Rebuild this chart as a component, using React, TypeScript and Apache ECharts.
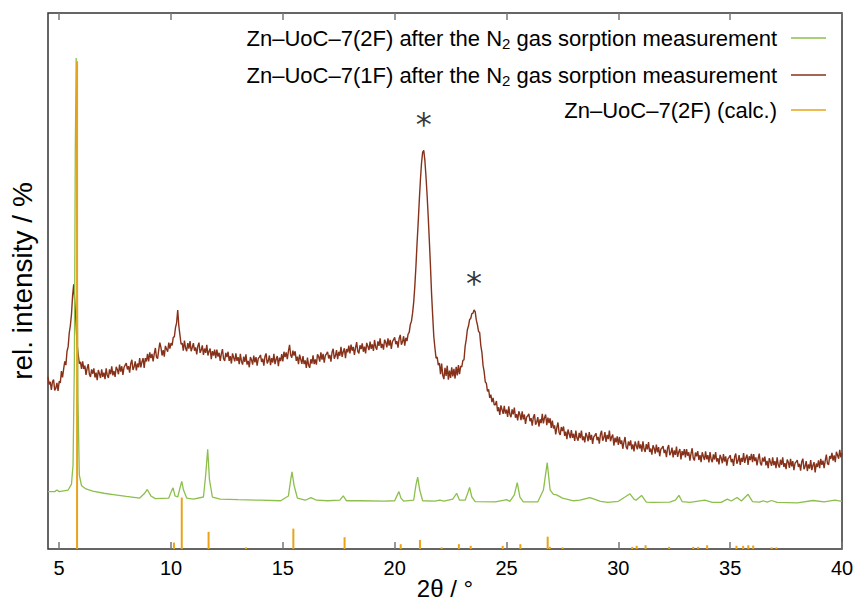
import React, { useEffect, useRef } from 'react';
import * as echarts from 'echarts';

const FONT = '"Liberation Sans", Arial, Helvetica, sans-serif';
const GREEN = '#8cbf4c';
const BROWN = '#86321a';
const ORANGE = '#e8a31a';

const NAME_2F = 'Zn–UoC–7(2F) after the N2 gas sorption measurement';
const NAME_1F = 'Zn–UoC–7(1F) after the N2 gas sorption measurement';
const NAME_CALC = 'Zn–UoC–7(2F) (calc.)';

const xTickValues = [5, 10, 15, 20, 25, 30, 35, 40];

// Zn-UoC-7(2F) after N2 sorption: [2θ, intensity]
const green2F = [
  [4.5, 10.7], [4.8, 10.7], [4.9, 11.0], [5.0, 10.7], [5.4, 11.0], [5.55, 12.1], [5.62, 15.7], [5.68, 35], [5.72, 74], [5.76, 91.6],
  [5.8, 60], [5.84, 27.8], [5.9, 13.8], [6.0, 11.8], [6.2, 11.2], [6.5, 10.8], [7.0, 10.4], [7.5, 10.1], [8.0, 9.8], [8.6, 9.5],
  [8.8, 10.3], [8.94, 11.1], [9.1, 9.9], [9.3, 9.4], [9.9, 9.5], [10.02, 10.8], [10.09, 11.4], [10.18, 9.9], [10.3, 9.7], [10.42, 11.7],
  [10.48, 12.6], [10.56, 11.0], [10.7, 9.5], [11.0, 9.3], [11.45, 9.7], [11.55, 13.8], [11.64, 18.6], [11.72, 12.9], [11.85, 9.7], [12.2, 9.3],
  [13.0, 9.2], [14.0, 9.1], [14.9, 9.0], [15.25, 9.9], [15.35, 12.9], [15.41, 14.4], [15.5, 11.9], [15.65, 9.5], [16.0, 9.1], [16.26, 9.6],
  [16.5, 9.1], [17.0, 9.0], [17.55, 9.1], [17.7, 9.9], [17.85, 9.0], [18.5, 9.0], [19.5, 8.95], [20.0, 9.0], [20.12, 10.1], [20.19, 10.7],
  [20.28, 9.5], [20.4, 8.95], [20.85, 9.1], [20.95, 11.9], [21.03, 13.4], [21.12, 11.0], [21.25, 9.0], [21.8, 8.95], [22.02, 9.1], [22.2, 8.95],
  [22.6, 9.3], [22.77, 10.4], [22.9, 9.1], [23.15, 9.1], [23.28, 10.6], [23.35, 11.5], [23.45, 9.7], [23.6, 8.85], [24.5, 8.8], [24.9, 9.1],
  [25.0, 9.2], [25.15, 8.9], [25.35, 10.1], [25.48, 12.4], [25.6, 9.7], [25.75, 8.8], [26.4, 8.8], [26.65, 11.0], [26.82, 16.1], [26.95, 11.0],
  [27.1, 10.2], [27.24, 10.1], [27.5, 9.5], [28.0, 9.0], [28.28, 9.1], [28.73, 9.6], [29.2, 8.9], [29.53, 8.7], [30.0, 8.9], [30.3, 9.7],
  [30.52, 10.3], [30.7, 9.3], [30.79, 9.1], [31.04, 10.0], [31.25, 8.75], [31.5, 8.7], [32.3, 8.75], [32.55, 9.1], [32.71, 10.0], [32.85, 8.85],
  [33.2, 8.7], [33.87, 9.1], [34.2, 8.7], [34.6, 8.7], [34.87, 9.3], [35.05, 8.95], [35.31, 9.6], [35.5, 8.95], [35.8, 10.2], [36.0, 8.85],
  [36.3, 8.75], [36.48, 9.0], [36.65, 8.75], [36.85, 9.05], [37.1, 8.7], [38.0, 8.6], [38.71, 9.05], [39.2, 8.8], [39.68, 9.1], [40.0, 8.9],
];

// Zn-UoC-7(1F) after N2 sorption, measured on a 0.05° grid starting at 4.5°
const BROWN_START = 4.5;
const BROWN_STEP = 0.05;
const brown1F = [
  32.1, 30.7, 31.2, 29.7, 31.2, 31.6, 29.6, 30.0, 31.0, 29.5, 31.3, 31.0, 33.2, 32.0, 33.6, 35.0, 34.3, 36.9, 37.7, 40.3,
  41.7, 43.8, 47.3, 49.4, 45.8, 42.4, 38.2, 36.3, 34.6, 34.9,
  33.6, 35.0, 33.6, 34.2, 32.5, 33.7, 34.5, 32.6, 32.1, 33.5,
  32.7, 33.7, 32.0, 32.9, 31.5, 33.4, 32.7, 31.9, 33.5, 32.1,
  32.9, 31.7, 33.7, 32.4, 31.9, 33.5, 32.6, 34.1, 32.4, 33.2, 32.1, 34.0, 33.5, 32.6, 34.4, 33.1, 34.1, 32.5, 33.9, 34.3,
  34.7, 33.5, 34.1, 32.9, 34.6, 35.3, 33.4, 34.0, 35.0, 33.3, 34.6, 33.9, 35.6, 33.9, 34.9, 35.6, 33.8, 35.6, 35.0, 36.4,
  35.0, 36.7, 35.6, 36.4, 35.0, 36.4, 37.5, 35.8, 35.5, 37.1, 38.5, 37.6, 36.1, 37.1, 35.9, 37.9, 37.3, 36.8, 38.5, 37.4,
  38.4, 38.0, 39.5, 39.6, 41.3, 42.2, 44.6, 41.6, 39.9, 38.2,
  38.4, 37.0, 38.9, 37.5, 36.9, 38.4, 37.4, 38.8, 36.9, 37.6,
  38.4, 37.0, 37.6, 36.3, 37.9, 38.5, 36.6, 37.1, 38.0, 36.2, 37.4, 36.6, 38.1, 36.1, 36.9, 37.4, 35.4, 36.9, 36.1, 37.2,
  35.6, 37.2, 35.9, 36.6, 35.1, 36.4, 37.3, 35.5, 35.1, 36.6, 35.8, 36.8, 35.1, 36.0, 34.6, 36.5, 35.7, 35.0, 36.5, 35.1,
  35.8, 34.5, 36.4, 35.0, 34.4, 35.9, 34.9, 36.3, 34.4, 35.1, 33.9, 35.8, 35.3, 34.4, 36.1, 34.8, 35.8, 34.2, 35.5, 35.8,
  36.2, 34.9, 35.5, 34.2, 35.9, 36.5, 34.6, 35.1, 36.1, 34.3, 35.6, 34.8, 36.4, 34.5, 35.4, 36.0, 34.1, 35.7, 35.05, 36.35,
  35.0, 36.8, 35.8, 36.7, 35.4, 36.9, 38.1, 36.2, 35.7, 37.0, 36.1, 36.9, 35.1, 35.9, 34.5, 36.25, 35.4, 34.55, 36.0, 34.5,
  35.2, 33.8, 35.7, 34.3, 33.8, 35.4, 34.6, 36.15, 34.5, 35.35, 34.4, 36.3, 35.9, 34.95, 36.7, 35.35, 36.4, 34.75, 36.1, 36.4,
  36.8, 35.55, 36.2, 34.95, 36.7, 37.35, 35.5, 36.05, 37.1, 35.4, 36.8, 36.05, 37.7, 35.85, 36.8, 37.45, 35.6, 37.3, 36.7, 37.95,
  36.5, 38.15, 37.0, 37.7, 36.2, 37.55, 38.6, 36.85, 36.5, 38.0, 37.3, 38.35, 36.8, 37.75, 36.5, 38.45, 37.8, 37.1, 38.7, 37.35,
  38.2, 36.95, 39.0, 37.65, 37.2, 38.75, 37.9, 39.3, 37.5, 38.25, 37.2, 39.05, 38.6, 37.6, 39.3, 37.95, 39.0, 37.35, 38.7, 39.05,
  39.5, 38.2, 38.8, 37.55, 39.3, 39.95, 38.1, 38.65, 39.7, 37.95,
  39.4, 38.8, 40.1, 40.4, 41.9, 42.5, 44.0, 46.0, 49.0, 52.7,
  57.0, 60.8, 65.0, 68.8, 72.0, 74.0, 74.4, 72.5, 69.5, 66.0,
  62.0, 57.5, 52.8, 47.6, 43.5, 39.6, 37.5, 35.6, 35.8, 34.3,
  34.7, 32.6, 34.6, 32.4, 31.7, 33.8, 32.3, 34.2, 31.6, 33.3,
  31.9, 33.9, 32.2, 33.6, 31.8, 34.0, 32.4, 34.3, 32.6, 34.1,
  34.0, 35.2, 35.3, 37.8, 39.1, 40.9, 41.6, 42.8, 43.0, 43.9,
  44.0, 44.6, 44.3, 42.7, 41.8, 40.6, 40.4, 38.0, 36.7, 34.3,
  33.1, 31.2, 30.9, 29.4, 29.8, 28.2, 28.8, 27.4, 28.2, 26.9,
  26.9, 27.6, 25.7, 26.45, 25.0, 26.8, 26.0, 25.2, 26.7, 25.25,
  26.0, 24.65, 26.6, 25.15, 24.6, 26.05, 25.1, 26.4, 24.5, 25.15, 24.0, 25.7, 25.1, 24.05, 25.7, 24.2, 25.1, 23.35, 24.6, 24.85,
  25.2, 23.85, 24.4, 23.0, 24.6, 25.15, 23.2, 23.65, 24.6, 22.85, 24.2, 23.5, 25.2, 23.45, 24.5, 25.1, 23.1, 24.5, 23.5, 24.4,
  22.6, 23.95, 22.5, 23.05, 21.4, 22.65, 23.6, 21.75, 21.3, 22.75, 22.0, 22.85, 21.1, 21.9, 20.5, 22.3, 21.5, 20.7, 22.2, 20.75,
  21.5, 20.15, 22.1, 20.7, 20.2, 21.65, 20.7, 22.1, 20.3, 21.0, 19.9, 21.65, 21.1, 20.1, 21.8, 20.35, 21.3, 19.6, 20.9, 21.2,
  21.6, 20.3, 20.9, 19.65, 21.4, 22.05, 20.2, 20.75, 21.8, 20.0, 21.3, 20.5, 22.1, 20.1, 20.9, 21.35, 19.3, 20.75, 19.9, 21.0,
  19.4, 20.9, 19.6, 20.25, 18.7, 19.95, 20.9, 19.05, 18.6, 20.05, 19.3, 20.25, 18.6, 19.5, 18.2, 20.05, 19.3, 18.6, 20.2, 18.75,
  19.5, 18.15, 20.1, 18.65, 18.1, 19.55, 18.6, 19.95, 18.1, 18.75, 17.6, 19.35, 18.8, 17.8, 19.5, 18.05, 19.0, 17.3, 18.6, 18.85,
  19.2, 17.9, 18.5, 17.15, 18.8, 19.4, 17.5, 17.95, 18.9, 17.1, 18.4, 17.55, 19.1, 17.2, 18.1, 18.65, 16.7, 18.25, 17.5, 18.65,
  17.1, 18.65, 17.4, 18.05, 16.5, 17.8, 18.8, 16.95, 16.5, 18.0, 17.3, 18.25, 16.6, 17.5, 16.2, 18.05, 17.3, 16.6, 18.2, 16.75,
  17.5, 16.15, 18.1, 16.7, 16.2, 17.65, 16.7, 18.1, 16.3, 16.95, 15.8, 17.55, 17.0, 16.0, 17.7, 16.3, 17.3, 15.55, 16.8, 17.1,
  17.5, 16.2, 16.8, 15.5, 17.2, 17.8, 15.9, 16.45, 17.5, 15.7, 17.0, 16.25, 17.9, 16.05, 17.0, 17.6, 15.7, 17.3, 16.6, 17.75,
  16.2, 17.7, 16.4, 17.1, 15.6, 16.85, 17.8, 16.0, 15.6, 17.05, 16.3, 17.25, 15.6, 16.45, 15.1, 16.95, 16.2, 15.5, 17.1, 15.65,
  16.4, 15.1, 17.1, 15.7, 15.2, 16.65, 15.7, 17.1, 15.3, 16.0, 14.9, 16.7, 16.2, 15.15, 16.8, 15.4, 16.4, 14.7, 16.0, 16.25,
  16.6, 15.3, 15.9, 14.6, 16.3, 16.85, 14.9, 15.4, 16.4, 14.55, 15.8, 15.0, 16.6, 14.7, 15.6, 16.2, 14.3, 15.95, 15.3, 16.55,
  15.1, 16.8, 15.7, 16.5, 15.1, 16.5, 17.6, 15.95, 15.7, 17.35, 16.8, 17.95, 16.5, 17.45, 16.2, 18.15, 17.5, 16.85, 18.5, 17.1,
  17.9,
];

// Calculated reflections: positions (2θ) and heights
const calcPos = [5.8, 10.13, 10.48, 11.68, 13.35, 15.47, 17.76, 20.27, 21.13, 22.1, 22.87, 23.4, 24.83, 25.62, 26.84, 26.94, 27.51,
  30.62, 30.82, 31.22, 32.27, 33.35, 33.57, 33.97, 35.28, 35.58, 35.81, 36.03, 36.85, 37.07];
const calcInt = [91, 1.2, 9.6, 3.2, 0.3, 3.8, 2.2, 0.9, 1.7, 0.3, 0.9, 0.6, 0.6, 0.9, 2.3, 0.4, 0.3,
  0.4, 0.6, 0.7, 0.4, 0.4, 0.4, 0.7, 0.6, 0.6, 0.7, 0.65, 0.3, 0.3];

// Peaks marked with an asterisk
const markedPeaks = [[21.3, 74.4], [23.55, 44.6]];

function legendFormatter(name: string) {
  const i = name.indexOf('N2');
  if (i < 0) return `{a|${name}}`;
  return `{a|${name.slice(0, i + 1)}}{s|2}{a|${name.slice(i + 2)}}`;
}

const legendBase = {
  orient: 'horizontal',
  align: 'right',
  icon: 'rect',
  itemWidth: 35,
  itemHeight: 1.5,
  right: 35,
  padding: 0,
  selectedMode: false,
  formatter: legendFormatter,
  textStyle: {
    color: '#000',
    fontFamily: FONT,
    fontSize: 22,
    padding: [0, 9, 0, 0],
    rich: {
      a: { fontSize: 22, fontFamily: FONT, color: '#000' },
      s: { fontSize: 15, fontFamily: FONT, color: '#000', padding: [10, 0, 0, 0] },
    },
  },
};

export default function App() {
  const ref = useRef<HTMLDivElement>(null);
  useEffect(() => {
    const chart = echarts.init(ref.current!, null, { renderer: 'svg' });
    const brownData = brown1F.map((v, i) => [+(BROWN_START + i * BROWN_STEP).toFixed(2), v]);
    const calcData = calcPos.map((p, i) => [p, calcInt[i]]);
    const option: any = {
      animation: false,
      backgroundColor: '#fff',
      grid: {
        left: 48, right: 19, top: 13, bottom: 54,
        containLabel: false, outerBoundsMode: 'none',
        show: true, borderColor: '#333', borderWidth: 1.5, backgroundColor: 'transparent',
      },
      legend: [
        { ...legendBase, top: 27, data: [NAME_2F] },
        { ...legendBase, top: 64, data: [NAME_1F] },
        { ...legendBase, top: 99, data: [NAME_CALC] },
      ],
      xAxis: [
        {
          type: 'value', min: 4.5, max: 40, position: 'bottom',
          name: '2θ / °', nameLocation: 'middle', nameGap: 27, nameMoveOverlap: false,
          nameTextStyle: { fontSize: 24, lineHeight: 24, fontFamily: FONT, color: '#000' },
          axisLine: { show: false },
          axisTick: { show: true, inside: true, length: 7, customValues: xTickValues, lineStyle: { color: '#777', width: 1.5 } },
          axisLabel: { show: true, customValues: xTickValues, fontSize: 20, fontFamily: FONT, color: '#000', margin: 9 },
          splitLine: { show: false },
        },
        {
          type: 'value', min: 4.5, max: 40, position: 'top',
          axisLine: { show: false },
          axisTick: { show: true, inside: true, length: 7, customValues: xTickValues, lineStyle: { color: '#777', width: 1.5 } },
          axisLabel: { show: false },
          splitLine: { show: false },
        },
      ],
      yAxis: {
        type: 'value', min: 0, max: 100,
        name: 'rel. intensity / %', nameLocation: 'middle', nameGap: 12, nameMoveOverlap: false,
        nameTextStyle: { fontSize: 28, fontFamily: FONT, color: '#000' },
        axisLine: { show: false }, axisTick: { show: false }, axisLabel: { show: false }, splitLine: { show: false },
      },
      series: [
        {
          name: NAME_1F, type: 'line', data: brownData, showSymbol: false, symbol: 'none',
          lineStyle: { color: BROWN, width: 1.4 }, itemStyle: { color: BROWN }, z: 2,
        },
        {
          name: NAME_2F, type: 'line', data: green2F, showSymbol: false, symbol: 'none',
          lineStyle: { color: GREEN, width: 1.3 }, itemStyle: { color: GREEN }, z: 3,
        },
        {
          name: NAME_CALC, type: 'custom', data: calcData, encode: { x: 0, y: 1 }, z: 4,
          itemStyle: { color: ORANGE },
          renderItem: (_params: any, api: any) => {
            const x = api.value(0);
            const h = api.value(1);
            const p0 = api.coord([x, 0]);
            const p1 = api.coord([x, h]);
            return { type: 'line', shape: { x1: p0[0], y1: p0[1], x2: p1[0], y2: p1[1] }, style: { stroke: ORANGE, lineWidth: 2 } };
          },
        },
        {
          name: 'marks', type: 'scatter', data: markedPeaks, symbolSize: 1,
          itemStyle: { color: 'rgba(0,0,0,0)' }, z: 5, silent: true,
          label: { show: true, position: 'top', distance: 10, formatter: '*', fontSize: 32, fontFamily: '"DejaVu Sans", sans-serif', color: '#000' },
        },
      ],
    };
    chart.setOption(option);
    return () => chart.dispose();
  }, []);
  return <div ref={ref} style={{ position: 'absolute', left: 0, top: 0, width: 861, height: 603 }} />;
}
